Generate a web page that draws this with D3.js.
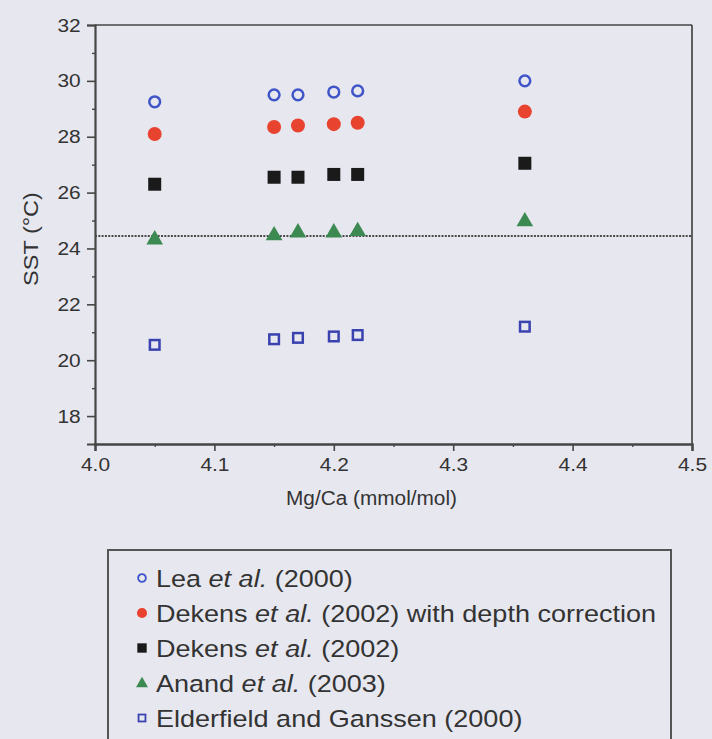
<!DOCTYPE html>
<html><head><meta charset="utf-8">
<script src="https://cdn.jsdelivr.net/npm/d3@7"></script>
<style>
html,body{margin:0;padding:0;background:#e7e7ef;}
svg{display:block;}
text{font-family:"Liberation Sans",Arial,sans-serif;fill:#333;}
</style></head>
<body>
<svg id="chart" width="712" height="739"></svg>
<script>
const mgca = [4.05, 4.15, 4.17, 4.20, 4.22, 4.36];
const lea = [29.25, 29.5, 29.5, 29.6, 29.64, 30.0];
const dekensDepth = [28.1, 28.35, 28.4, 28.45, 28.5, 28.9];
const dekens = [26.3, 26.55, 26.55, 26.65, 26.65, 27.05];
const anand = [24.35, 24.5, 24.6, 24.6, 24.65, 25.0];
const elderfield = [20.55, 20.75, 20.8, 20.85, 20.9, 21.2];
const refLine = 24.45;
const xTicks = [4.0, 4.1, 4.2, 4.3, 4.4, 4.5];
const yTicks = [18, 20, 22, 24, 26, 28, 30, 32];
const seriesNames = ["Lea", "Dekens depth", "Dekens", "Anand", "Elderfield"];
const legendLabels = [
  [["Lea ",false],["et al.",true],[" (2000)",false]],
  [["Dekens ",false],["et al.",true],[" (2002) with depth correction",false]],
  [["Dekens ",false],["et al.",true],[" (2002)",false]],
  [["Anand ",false],["et al.",true],[" (2003)",false]],
  [["Elderfield and Ganssen (2000)",false]]
];

const svg = d3.select("#chart");
const x = d3.scaleLinear().domain([4.0, 4.5]).range([95, 692]);
const y = d3.scaleLinear().domain([17, 32]).range([444, 25]);

const axisColor = "#464646";

// frame top & right
svg.append("line").attr("x1", x(4.0)).attr("x2", x(4.5)).attr("y1", y(32)).attr("y2", y(32))
  .attr("stroke", axisColor).attr("stroke-width", 1.7);
svg.append("line").attr("x1", x(4.5)).attr("x2", x(4.5)).attr("y1", y(32)).attr("y2", y(17))
  .attr("stroke", axisColor).attr("stroke-width", 1.7);

// dotted reference line
svg.append("line").attr("x1", x(4.0)).attr("x2", x(4.5)).attr("y1", y(refLine)).attr("y2", y(refLine))
  .attr("stroke", "#4a4a4a").attr("stroke-width", 2).attr("stroke-dasharray", "2,1.3");

// y axis
const yAxis = svg.append("g").attr("transform", `translate(${x(4.0)},0)`)
  .call(d3.axisLeft(y).tickValues(yTicks).tickSize(8).tickPadding(5).tickFormat(d3.format("d")));
yAxis.select(".domain").attr("stroke", axisColor).attr("stroke-width", 2.2);
yAxis.selectAll(".tick line").attr("stroke", axisColor).attr("stroke-width", 1.6);
yAxis.selectAll("text").style("font-size", "19px").attr("fill", "#333")
  .attr("transform", "scale(1.1,1)");
const yMinor = svg.append("g").attr("transform", `translate(${x(4.0)},0)`)
  .call(d3.axisLeft(y).tickValues(d3.range(19, 32, 2)).tickSize(3).tickFormat(""));
yMinor.select(".domain").remove();
yMinor.selectAll(".tick line").attr("stroke", axisColor).attr("stroke-width", 1.4);

// x axis
const xAxis = svg.append("g").attr("transform", `translate(0,${y(17)})`)
  .call(d3.axisBottom(x).tickValues(xTicks).tickSize(7).tickPadding(7).tickFormat(d3.format(".1f")));
xAxis.select(".domain").attr("stroke", axisColor).attr("stroke-width", 2.4);
xAxis.selectAll(".tick line").attr("stroke", axisColor).attr("stroke-width", 1.6);
xAxis.selectAll("text").style("font-size", "19px").attr("fill", "#333")
  .attr("transform", "scale(1.1,1)");
const xMinor = svg.append("g").attr("transform", `translate(0,${y(17)})`)
  .call(d3.axisBottom(x).tickValues(d3.range(4.05, 4.5, 0.1)).tickSize(3).tickFormat(""));
xMinor.select(".domain").remove();
xMinor.selectAll(".tick line").attr("stroke", axisColor).attr("stroke-width", 1.4);

// axis titles
svg.append("text").attr("transform", `translate(${(x(4.0)+x(4.5))/2 - 22},505) scale(1.04,1)`).attr("text-anchor", "middle")
  .style("font-size", "20px").text("Mg/Ca (mmol/mol)");
svg.append("text").attr("transform", `translate(38,239) rotate(-90) scale(1.12,1)`).attr("text-anchor", "middle")
  .style("font-size", "21px").text("SST (°C)");

// marker drawers
const sym = {
  "Lea": (g, s) => g.append("circle").attr("r", 5.4*s).attr("fill", "none").attr("stroke", "#3f55c8").attr("stroke-width", 2.5*s),
  "Dekens depth": (g, s) => g.append("circle").attr("r", 7*s).attr("fill", "#e8432e"),
  "Dekens": (g, s) => g.append("rect").attr("x", -6.5*s).attr("y", -6.5*s).attr("width", 13*s).attr("height", 13*s).attr("fill", "#1a1a1a"),
  "Anand": (g, s) => g.append("path").attr("d", d3.symbol(d3.symbolTriangle, 120*s*s)()).attr("fill", "#3c8a52").attr("transform", `translate(0,${1*s})`),
  "Elderfield": (g, s) => g.append("rect").attr("x", -4.8*s).attr("y", -4.8*s).attr("width", 9.6*s).attr("height", 9.6*s).attr("fill", "none").attr("stroke", "#3a42b0").attr("stroke-width", 2.5*s)
};
const seriesData = [lea, dekensDepth, dekens, anand, elderfield];

seriesData.forEach((vals, i) => {
  const name = seriesNames[i];
  vals.forEach((v, j) => {
    const g = svg.append("g").attr("transform", `translate(${x(mgca[j])},${y(v)})`);
    sym[name](g, 1);
  });
});

// legend
svg.append("rect").attr("x", 108).attr("y", 550).attr("width", 563).attr("height", 200)
  .attr("fill", "none").attr("stroke", "#555").attr("stroke-width", 2);
const legY0 = 578, legDy = 35;
legendLabels.forEach((parts, i) => {
  const cy = legY0 + i*legDy;
  const g = svg.append("g").attr("transform", `translate(142,${cy})`);
  sym[seriesNames[i]](g, 0.72);
  const t = svg.append("text").attr("transform", `translate(156,${cy + 9}) scale(1.15,1)`).style("font-size", "23.5px");
  parts.forEach(p => {
    t.append("tspan").text(p[0]).style("font-style", p[1] ? "italic" : "normal");
  });
});
</script>
</body></html>
